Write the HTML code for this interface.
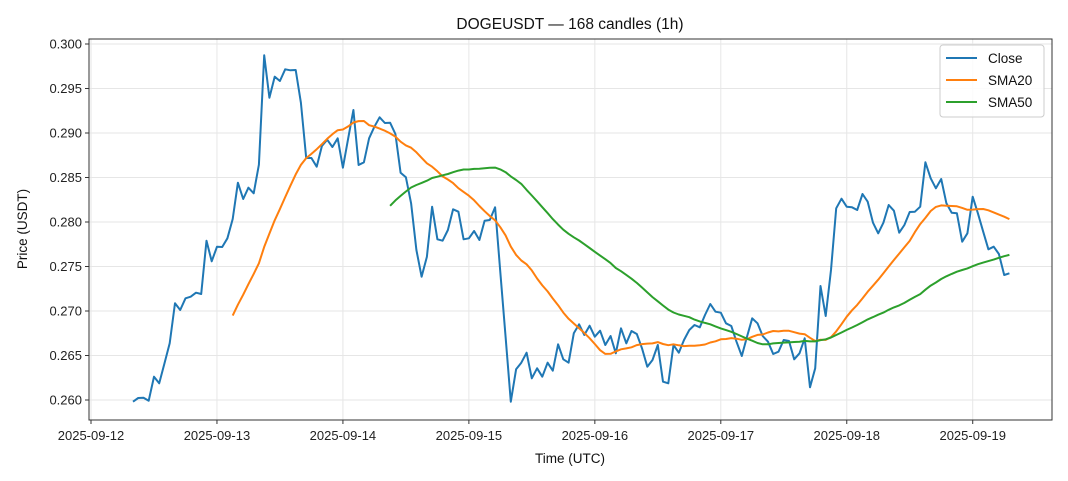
<!DOCTYPE html>
<html><head><meta charset="utf-8"><style>body{margin:0;background:#fff}svg{display:block;font-family:"Liberation Sans","DejaVu Sans",sans-serif}</style></head>
<body>
<svg id="s" width="1068" height="481" viewBox="0 0 1068 481" xmlns="http://www.w3.org/2000/svg">
<rect width="1068" height="481" fill="#fff"/>
<g id="grid" stroke="#e6e6e6" stroke-width="1"></g>
<g id="ticks" font-size="13" fill="#222"></g>
<path id="close" fill="none" stroke="#1f77b4" stroke-width="2" stroke-linejoin="round"/>
<path id="sma20" fill="none" stroke="#ff7f0e" stroke-width="2" stroke-linejoin="round"/>
<path id="sma50" fill="none" stroke="#2ca02c" stroke-width="2" stroke-linejoin="round"/>
<rect x="89" y="39" width="963" height="381" fill="none" stroke="#333" stroke-width="1"/>
<text x="570" y="29" font-size="15.5" text-anchor="middle" fill="#111">DOGEUSDT — 168 candles (1h)</text>
<text x="570" y="463" font-size="13.5" text-anchor="middle" fill="#111">Time (UTC)</text>
<text transform="translate(27,229) rotate(-90)" font-size="13.5" text-anchor="middle" fill="#111">Price (USDT)</text>
<rect x="940" y="45" width="104" height="72" rx="3" fill="#fff" fill-opacity="0.85" stroke="#ccc"/>
<line x1="946" y1="58" x2="977" y2="58" stroke="#1f77b4" stroke-width="2"/>
<line x1="946" y1="80" x2="977" y2="80" stroke="#ff7f0e" stroke-width="2"/>
<line x1="946" y1="102" x2="977" y2="102" stroke="#2ca02c" stroke-width="2"/>
<text x="988" y="63" font-size="13.5" fill="#111">Close</text>
<text x="988" y="85" font-size="13.5" fill="#111">SMA20</text>
<text x="988" y="107" font-size="13.5" fill="#111">SMA50</text>
</svg>
<script>
var Y=[401.7,398,397.7,400.7,376.7,383.3,363.3,343.3,303.3,310,298.3,296.7,292.7,294,240.7,261.3,246.7,247,238.3,219,182.7,199,187.7,193.3,164.7,55.3,97.7,76.7,81,69.3,70.3,70,102.7,158,158,166.7,146,139.7,147,138.3,167.7,138.3,110,165,162.3,138.3,126.7,117.3,123,122.7,134,172.7,177.3,203.3,250,276.7,256.7,206.7,239.3,240.7,230,209.3,211.7,239.3,238.3,231,240,220.7,220,207.3,272,337,401.7,369.3,362.7,352.7,378.3,368.3,376.7,362.7,370.7,344.3,359.3,362.7,333.3,324.3,335,325.7,336.7,330.7,345,336,353.3,328.3,343.3,331,334,348.3,366.7,360,345,381.7,383.3,345,352.7,340,330,325,327.3,315,304,311.7,312.7,323.3,326,341.7,356,336.7,318.3,323.3,336,341.7,354,351.7,340,341,359.3,353.3,338.3,387.3,368.3,286,316,270,208.3,198.7,206.7,207.3,210,194,201.7,222.7,233.3,222.7,205,210.7,232.7,225,212,211.7,206.7,162.3,178.3,188.3,179,203.3,212.7,213.3,241.7,233.3,196.7,213.3,231.7,249.3,246.7,254,275,273.3];
function X(i){return 91+(8+i)*5.248;}
function path(s,e,f){var d="";for(var i=s;i<e;i++){d+=(i==s?"M":"L")+X(i).toFixed(1)+","+f(i).toFixed(1);}return d;}
document.getElementById("close").setAttribute("d",path(0,168,function(i){return Y[i]}));
function sma(n){return function(i){var s=0;for(var k=i-n+1;k<=i;k++)s+=Y[k];return s/n;}}
document.getElementById("sma20").setAttribute("d",path(19,168,sma(20)));
document.getElementById("sma50").setAttribute("d",path(49,168,sma(50)));
var g=document.getElementById("grid"),t=document.getElementById("ticks"),NS="http://www.w3.org/2000/svg";
function el(p,n,a,txt){var e=document.createElementNS(NS,n);for(var k in a)e.setAttribute(k,a[k]);if(txt)e.textContent=txt;p.appendChild(e);}
for(var j=0;j<9;j++){var v=0.260+j*0.005,y=400-(v-0.26)*8900;
el(g,"line",{x1:89,x2:1052,y1:y,y2:y});
el(t,"line",{x1:85,x2:89,y1:y,y2:y,stroke:"#333"});
el(t,"text",{x:82,y:y+4.5,"text-anchor":"end"},v.toFixed(3));}
for(var d=0;d<8;d++){var x=91+d*125.96;
el(g,"line",{x1:x,x2:x,y1:39,y2:420});
el(t,"line",{x1:x,x2:x,y1:420,y2:424,stroke:"#333"});
el(t,"text",{x:x,y:440,"text-anchor":"middle"},"2025-09-1"+(2+d));}
</script>
</body></html>
